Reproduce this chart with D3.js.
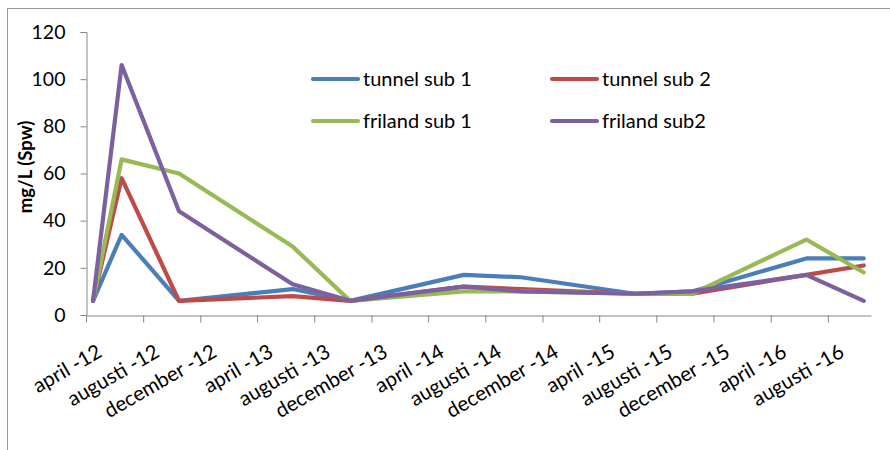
<!DOCTYPE html>
<html>
<head>
<meta charset="utf-8">
<script src="https://cdn.jsdelivr.net/npm/d3@7"></script>
<style>
  html, body { margin: 0; padding: 0; background: #fff; }
  svg { display: block; font-family: Lato, "Open Sans", sans-serif; }
</style>
</head>
<body>
<svg id="chart" width="890" height="450"></svg>
<script>
// Sampling months (one value per month, plotted at mid-month)
const sampleMonths = ["2012-04", "2012-06", "2012-10", "2013-06", "2013-10",
                      "2014-06", "2014-10", "2015-06", "2015-10", "2016-06", "2016-10"];

const seriesNames = ["tunnel sub 1", "tunnel sub 2", "friland sub 1", "friland sub2"];
const tunnelSub1  = [6, 34, 6, 11, 6, 17, 16, 9, 10, 24, 24];
const tunnelSub2  = [6, 58, 6, 8, 6, 12, 11, 9, 9, 17, 21];
const frilandSub1 = [6, 66, 60, 29, 6, 10, 10, 9, 9, 32, 18];
const frilandSub2 = [6, 106, 44, 13, 6, 12, 10, 9, 10, 17, 6];
const seriesColors = ["#4a7ebb", "#be4b48", "#98b954", "#7d60a0"];

// Axis ticks every four months
const tickMonths = ["2012-04", "2012-08", "2012-12", "2013-04", "2013-08", "2013-12",
                    "2014-04", "2014-08", "2014-12", "2015-04", "2015-08", "2015-12",
                    "2016-04", "2016-08"];
const tickLabels = ["april -12", "augusti -12", "december -12", "april -13", "augusti -13",
                    "december -13", "april -14", "augusti -14", "december -14", "april -15",
                    "augusti -15", "december -15", "april -16", "augusti -16"];
const yTicks = [0, 20, 40, 60, 80, 100, 120];

const parseMonth = d3.timeParse("%Y-%m");
const midMonth = m => {
  const start = parseMonth(m);
  const end = d3.timeMonth.offset(start, 1);
  return new Date((+start + +end) / 2);
};

const svg = d3.select("#chart");

// chart frame
svg.append("rect")
  .attr("x", 7.5).attr("y", 8.5)
  .attr("width", 900).attr("height", 460)
  .attr("fill", "#fff").attr("stroke", "#9a9a9a").attr("stroke-width", 1);

const x = d3.scaleTime()
  .domain([parseMonth("2012-04"), parseMonth("2016-11")])
  .range([86, 871]);
const y = d3.scaleLinear().domain([0, 120]).range([315, 32]);

const axisColor = "#868686";

// y axis
const yAxis = svg.append("g")
  .attr("transform", "translate(86.5,0)")
  .call(d3.axisLeft(y).tickValues(yTicks).tickSize(6).tickPadding(15).tickFormat(d3.format("d")));
yAxis.select(".domain").attr("stroke", axisColor);
yAxis.selectAll(".tick line").attr("stroke", axisColor);
yAxis.selectAll(".tick text")
  .attr("fill", "#000").attr("font-size", 19.5).attr("font-family", "Lato, sans-serif");

// x axis
const xAxis = svg.append("g")
  .attr("transform", "translate(0,315.5)")
  .call(d3.axisBottom(x)
    .tickValues(tickMonths.map(parseMonth))
    .tickSize(7).tickSizeOuter(0)
    .tickFormat(""));
xAxis.select(".domain").attr("stroke", axisColor);
xAxis.selectAll(".tick line").attr("stroke", axisColor);

// rotated month labels, anchored at the middle of their month
svg.append("g").selectAll("text")
  .data(tickMonths)
  .join("text")
  .attr("transform", m => `translate(${x(midMonth(m)) + 3},343) rotate(-30)`)
  .attr("text-anchor", "end")
  .attr("dy", "0.72em")
  .attr("font-size", 20.5)
  .attr("fill", "#000")
  .text((m, i) => tickLabels[i]);

// y axis title
svg.append("text")
  .attr("transform", "translate(32,167) rotate(-90)")
  .attr("text-anchor", "middle")
  .attr("font-size", 18.5)
  .attr("font-weight", "bold")
  .attr("fill", "#000")
  .text("mg/L (Spw)");

// series lines
const allSeries = [tunnelSub1, tunnelSub2, frilandSub1, frilandSub2];
const line = d3.line()
  .x((v, i) => x(midMonth(sampleMonths[i])))
  .y(v => y(v));

svg.append("g").selectAll("path")
  .data(allSeries)
  .join("path")
  .attr("d", line)
  .attr("fill", "none")
  .attr("stroke", (d, i) => seriesColors[i])
  .attr("stroke-width", 4.2)
  .attr("stroke-linejoin", "round")
  .attr("stroke-linecap", "round");

// legend, two columns
const legendPos = [[313, 79], [552, 79], [313, 121], [552, 121]];
const legend = svg.append("g").selectAll("g")
  .data(seriesNames)
  .join("g")
  .attr("transform", (d, i) => `translate(${legendPos[i][0]},${legendPos[i][1]})`);
legend.append("line")
  .attr("x1", 0).attr("x2", 45).attr("y1", 0).attr("y2", 0)
  .attr("stroke", (d, i) => seriesColors[i])
  .attr("stroke-width", 4.2)
  .attr("stroke-linecap", "round");
legend.append("text")
  .attr("x", 50).attr("y", 0).attr("dy", "0.35em")
  .attr("font-size", 20)
  .attr("fill", "#000")
  .text(d => d);
</script>
</body>
</html>
